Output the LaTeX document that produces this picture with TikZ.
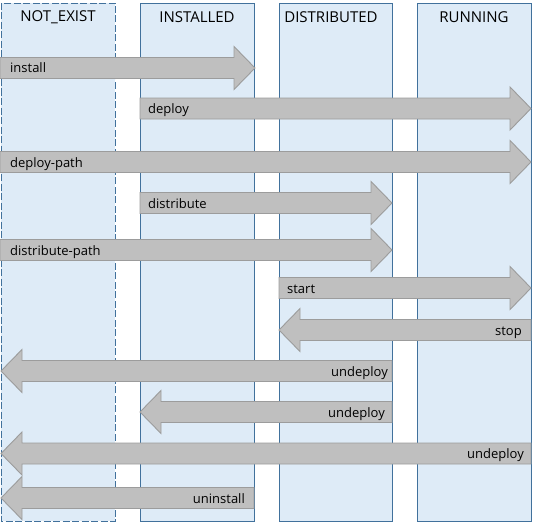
\documentclass[tikz,border=0pt]{standalone}
\usepackage{fontspec}
\setmainfont{Open Sans}
\definecolor{colfill}{HTML}{DEEBF7}
\definecolor{colline}{HTML}{41719C}
\definecolor{arrfill}{HTML}{BFBFBF}
\definecolor{arrline}{HTML}{9C9C9C}
\tikzset{
  col/.style={draw=colline, fill=colfill, line width=0.9pt},
  coltitle/.style={font=\fontsize{15}{18}\selectfont, text=black, anchor=center, inner sep=0pt},
  arr/.style={draw=arrline, fill=arrfill, line width=0.9pt, line join=miter},
  lbl/.style={font=\fontsize{13}{15}\selectfont, text=black, inner sep=0pt},
}
% right-pointing arrow: #1 start x, #2 tip x, #3 centre y
\newcommand{\rarr}[3]{%
  \draw[arr] (#1,#3-10.5) -- ({#2-21},#3-10.5) -- ({#2-21},#3-21.5) -- (#2,#3)
    -- ({#2-21},#3+21.5) -- ({#2-21},#3+10.5) -- (#1,#3+10.5) -- cycle;}
% left-pointing arrow: #1 start x (right end), #2 tip x, #3 centre y
\newcommand{\larr}[3]{%
  \draw[arr] (#1,#3-10.5) -- ({#2+21},#3-10.5) -- ({#2+21},#3-21.5) -- (#2,#3)
    -- ({#2+21},#3+21.5) -- ({#2+21},#3+10.5) -- (#1,#3+10.5) -- cycle;}
\begin{document}
\begin{tikzpicture}[x=1pt,y=-1pt]
\useasboundingbox (0,0) rectangle (534,524);
% columns
\draw[col, dash pattern=on 7pt off 2.5pt] (1,3) rectangle (115,521);
\draw[col] (140,3) rectangle (254,521);
\draw[col] (279,3) rectangle (392,521);
\draw[col] (417,3) rectangle (531,521);
\node[coltitle] (tNE) at (58,17) {NOT\_EXIST};
\node[coltitle] (tIN) at (197,17) {INSTALLED};
\node[coltitle] (tDI) at (331,17) {DISTRIBUTED};
\node[coltitle] (tRU) at (474,17) {RUNNING};
% arrows
\rarr{0}{255}{68}
\node[lbl, anchor=base west] (l1) at (10,73) {install};
\rarr{140}{531}{108.5}
\node[lbl, anchor=base west] (l2) at (148,113.5) {deploy};
\rarr{0}{531}{162}
\node[lbl, anchor=base west] (l3) at (10,167) {deploy-path};
\rarr{140}{392}{203}
\node[lbl, anchor=base west] (l4) at (148,208) {distribute};
\rarr{0}{392}{250}
\node[lbl, anchor=base west] (l5) at (10,255) {distribute-path};
\rarr{279}{531}{288}
\node[lbl, anchor=base west] (l6) at (287,293) {start};
\larr{531}{279}{330}
\node[lbl, anchor=base east] (l7) at (522,335) {stop};
\larr{392}{1}{371}
\node[lbl, anchor=base east] (l8) at (388,376) {undeploy};
\larr{392}{140}{412}
\node[lbl, anchor=base east] (l9) at (385,417) {undeploy};
\larr{531}{1}{453.5}
\node[lbl, anchor=base east] (l10) at (524,458.5) {undeploy};
\larr{254}{1}{498}
\node[lbl, anchor=base east] (l11) at (245,503) {uninstall};
\end{tikzpicture}
\end{document}
